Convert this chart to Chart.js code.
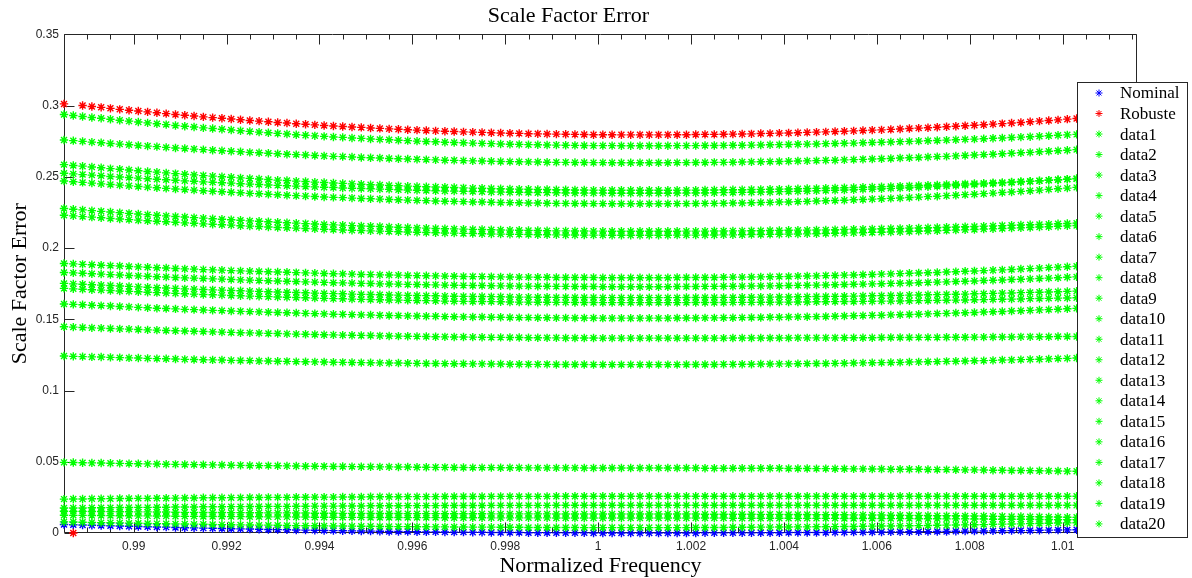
<!DOCTYPE html>
<html>
<head>
<meta charset="utf-8">
<title>Scale Factor Error</title>
<script src="https://cdn.jsdelivr.net/npm/chart.js@4.4.0/dist/chart.umd.min.js"></script>
<style>
	html, body { margin: 0; padding: 0; background: #fff; }
	#wrap { width: 1192px; height: 578px; }
</style>
</head>
<body>
<div id="wrap"><canvas id="chart" width="1192" height="578"></canvas></div>
<script>
'use strict';

//normalized frequency, shared by every series
const freq = [
	0.9885, 0.9887, 0.9889, 0.9891, 0.9893, 0.9895, 0.9897, 0.9899,
	0.9901, 0.9903, 0.9905, 0.9907, 0.9909, 0.9911, 0.9913, 0.9915, 0.9917, 0.9919,
	0.9921, 0.9923, 0.9925, 0.9927, 0.9929, 0.9931, 0.9933, 0.9935, 0.9937, 0.9939,
	0.9941, 0.9943, 0.9945, 0.9947, 0.9949, 0.9951, 0.9953, 0.9955, 0.9957, 0.9959,
	0.9961, 0.9963, 0.9965, 0.9967, 0.9969, 0.9971, 0.9973, 0.9975, 0.9977, 0.9979,
	0.9981, 0.9983, 0.9985, 0.9987, 0.9989, 0.9991, 0.9993, 0.9995, 0.9997, 0.9999,
	1.0001, 1.0003, 1.0005, 1.0007, 1.0009, 1.0011, 1.0013, 1.0015, 1.0017, 1.0019,
	1.0021, 1.0023, 1.0025, 1.0027, 1.0029, 1.0031, 1.0033, 1.0035, 1.0037, 1.0039,
	1.0041, 1.0043, 1.0045, 1.0047, 1.0049, 1.0051, 1.0053, 1.0055, 1.0057, 1.0059,
	1.0061, 1.0063, 1.0065, 1.0067, 1.0069, 1.0071, 1.0073, 1.0075, 1.0077, 1.0079,
	1.0081, 1.0083, 1.0085, 1.0087, 1.0089, 1.0091, 1.0093, 1.0095, 1.0097, 1.0099,
	1.0101, 1.0103, 1.0105, 1.0107, 1.0109, 1.0111, 1.0113
];

//scale factor error of each series, in units of 1e-4
const UNIT = 1e-4;

const nominal = [
	60,58,56,54,53,51,49,47,46,44,42,41,39,37,36,34,33,32,30,29,28,26,25,24,23,21,20,19,18,17,16,15,14,13,12,11,11,10,9,8,8,7,6,6,5,5,4,4,3,3,2,2,2,1,1,1,1,0,0,0,0,0,0,
	0,0,0,0,0,0,1,1,1,1,1,1,2,2,2,3,3,3,4,4,5,5,6,6,7,7,8,8,9,9,10,11,11,12,13,13,14,15,16,17,17,18,19,20,21,22,23,24,25,26,27,28
];
const robuste = [
	3012,0,3001,2994,2988,2981,2974,2968,2962,2956,2950,2944,2938,2932,2927,2921,2916,2911,2906,2901,2896,2891,2887,2882,2878,2873,2869,2865,2861,2857,2854,2850,2847,2843,2840,2837,2834,2831,2828,2825,2823,2820,2818,2816,2814,2812,2810,2808,2806,2805,2803,2802,2801,2800,2799,2798,2797,2796,2796,2796,2795,2795,2795,
	2795,2795,2795,2796,2796,2797,2798,2798,2799,2800,2801,2802,2804,2805,2807,2808,2810,2812,2814,2816,2818,2820,2823,2825,2828,2830,2833,2836,2839,2842,2845,2848,2852,2855,2859,2862,2866,2870,2874,2878,2882,2887,2891,2896,2900,2905,2910,2915,2920,2925,2930,2936
];
const data1 = [
	2938,2931,2924,2917,2911,2904,2897,2891,2885,2879,2873,2867,2861,2855,2850,2844,2839,2834,2829,2824,2819,2814,2810,2805,2801,2796,2792,2788,2784,2780,2777,2773,2770,2766,2763,2760,2757,2754,2751,2748,2746,2743,2741,2739,2737,2735,2733,2731,2729,2728,2726,2725,2724,2723,2722,2721,2720,2719,2719,2719,2718,2718,2718,
	2718,2718,2718,2719,2719,2719,2720,2720,2721,2722,2722,2723,2724,2725,2726,2727,2729,2730,2731,2733,2734,2736,2737,2739,2741,2743,2745,2747,2749,2751,2753,2755,2758,2760,2763,2765,2768,2771,2773,2776,2779,2782,2785,2789,2792,2795,2798,2802,2805,2809,2813,2816
];
const data2 = [
	2759,2754,2749,2744,2739,2734,2730,2725,2720,2716,2712,2707,2703,2699,2695,2691,2687,2683,2680,2676,2672,2669,2666,2662,2659,2656,2653,2650,2647,2644,2642,2639,2636,2634,2632,2629,2627,2625,2623,2621,2619,2617,2616,2614,2612,2611,2610,2608,2607,2606,2605,2604,2603,2602,2602,2601,2601,2600,2600,2599,2599,2599,2599,
	2599,2599,2599,2600,2600,2601,2601,2602,2602,2603,2604,2605,2606,2607,2608,2610,2611,2612,2614,2616,2617,2619,2621,2623,2625,2627,2629,2632,2634,2636,2639,2642,2644,2647,2650,2653,2656,2659,2662,2666,2669,2672,2676,2680,2683,2687,2691,2695,2699,2703,2707,2712
];
const data3 = [
	2586,2580,2575,2569,2564,2558,2553,2548,2543,2538,2533,2528,2523,2518,2514,2509,2505,2501,2497,2493,2489,2485,2481,2477,2474,2470,2467,2463,2460,2457,2454,2451,2448,2445,2443,2440,2438,2435,2433,2431,2429,2427,2425,2423,2421,2420,2418,2417,2415,2414,2413,2412,2411,2410,2409,2408,2408,2407,2407,2406,2406,2406,2406,
	2406,2406,2406,2407,2407,2407,2408,2408,2409,2410,2410,2411,2412,2413,2414,2415,2417,2418,2419,2421,2422,2424,2425,2427,2429,2431,2433,2435,2437,2439,2441,2443,2446,2448,2451,2453,2456,2459,2461,2464,2467,2470,2473,2477,2480,2483,2486,2490,2493,2497,2501,2504
];
const data4 = [
	2525,2521,2516,2512,2508,2503,2499,2495,2491,2487,2483,2480,2476,2472,2469,2465,2462,2459,2456,2452,2449,2446,2443,2440,2438,2435,2432,2430,2427,2425,2422,2420,2418,2416,2414,2412,2410,2408,2406,2404,2403,2401,2400,2398,2397,2396,2394,2393,2392,2391,2390,2389,2389,2388,2387,2387,2386,2386,2386,2385,2385,2385,2385,
	2385,2385,2385,2386,2386,2387,2387,2388,2389,2390,2391,2392,2393,2394,2396,2397,2399,2400,2402,2404,2406,2408,2410,2412,2414,2417,2419,2422,2424,2427,2430,2433,2436,2439,2442,2446,2449,2453,2456,2460,2464,2468,2472,2476,2480,2484,2488,2493,2497,2502,2507,2512
];
const data5 = [
	2471,2466,2461,2456,2451,2446,2442,2437,2432,2428,2424,2419,2415,2411,2407,2403,2399,2395,2392,2388,2384,2381,2378,2374,2371,2368,2365,2362,2359,2356,2354,2351,2348,2346,2344,2341,2339,2337,2335,2333,2331,2329,2328,2326,2324,2323,2322,2320,2319,2318,2317,2316,2315,2314,2314,2313,2313,2312,2312,2311,2311,2311,2311,
	2311,2311,2311,2312,2312,2313,2314,2314,2315,2316,2317,2318,2320,2321,2323,2324,2326,2328,2330,2332,2334,2336,2339,2341,2344,2346,2349,2352,2355,2358,2361,2364,2368,2371,2375,2378,2382,2386,2390,2394,2398,2403,2407,2412,2416,2421,2426,2431,2436,2441,2446,2452
];
const data6 = [
	2278,2273,2268,2263,2258,2253,2249,2244,2239,2235,2231,2226,2222,2218,2214,2210,2206,2202,2199,2195,2191,2188,2185,2181,2178,2175,2172,2169,2166,2163,2161,2158,2155,2153,2151,2148,2146,2144,2142,2140,2138,2136,2135,2133,2131,2130,2129,2127,2126,2125,2124,2123,2122,2121,2121,2120,2120,2119,2119,2118,2118,2118,2118,
	2118,2118,2118,2118,2119,2119,2119,2120,2120,2121,2121,2122,2122,2123,2124,2125,2126,2126,2127,2128,2129,2131,2132,2133,2134,2136,2137,2138,2140,2141,2143,2145,2146,2148,2150,2152,2154,2156,2158,2160,2162,2164,2166,2168,2171,2173,2175,2178,2180,2183,2186,2188
];
const data7 = [
	2230,2226,2221,2217,2213,2208,2204,2200,2196,2192,2188,2185,2181,2177,2174,2170,2167,2164,2161,2157,2154,2151,2148,2145,2143,2140,2137,2135,2132,2130,2127,2125,2123,2121,2119,2117,2115,2113,2111,2109,2108,2106,2105,2103,2102,2101,2099,2098,2097,2096,2095,2094,2094,2093,2092,2092,2091,2091,2091,2090,2090,2090,2090,
	2090,2090,2090,2091,2091,2091,2092,2092,2093,2093,2094,2095,2095,2096,2097,2098,2099,2100,2101,2102,2104,2105,2107,2108,2110,2111,2113,2114,2116,2118,2120,2122,2124,2126,2128,2130,2133,2135,2137,2140,2142,2145,2148,2150,2153,2156,2159,2162,2165,2168,2171,2174
];
const data8 = [
	1892,1889,1886,1883,1880,1877,1874,1871,1868,1865,1862,1860,1857,1854,1852,1849,1847,1845,1842,1840,1838,1836,1834,1832,1830,1828,1826,1824,1822,1820,1819,1817,1815,1814,1812,1811,1810,1808,1807,1806,1805,1803,1802,1801,1800,1800,1799,1798,1797,1796,1796,1795,1795,1794,1794,1793,1793,1793,1792,1792,1792,1792,1792,
	1792,1792,1792,1793,1793,1793,1794,1794,1795,1796,1796,1797,1798,1799,1800,1801,1803,1804,1805,1807,1808,1810,1811,1813,1815,1817,1819,1821,1823,1825,1827,1829,1832,1834,1837,1839,1842,1845,1847,1850,1853,1856,1859,1863,1866,1869,1872,1876,1879,1883,1887,1890
];
const data9 = [
	1829,1826,1823,1820,1817,1814,1811,1808,1805,1802,1799,1797,1794,1791,1789,1786,1784,1782,1779,1777,1775,1773,1771,1769,1767,1765,1763,1761,1759,1757,1756,1754,1752,1751,1749,1748,1747,1745,1744,1743,1742,1740,1739,1738,1737,1737,1736,1735,1734,1733,1733,1732,1732,1731,1731,1730,1730,1730,1729,1729,1729,1729,1729,
	1729,1729,1729,1730,1730,1730,1731,1731,1732,1732,1733,1734,1734,1735,1736,1737,1738,1739,1740,1741,1743,1744,1746,1747,1749,1750,1752,1753,1755,1757,1759,1761,1763,1765,1767,1769,1772,1774,1776,1779,1781,1784,1787,1789,1792,1795,1798,1801,1804,1807,1810,1813
];
const data10 = [
	1752,1749,1746,1743,1740,1737,1734,1731,1728,1725,1722,1720,1717,1714,1712,1709,1707,1705,1702,1700,1698,1696,1694,1692,1690,1688,1686,1684,1682,1680,1679,1677,1675,1674,1672,1671,1670,1668,1667,1666,1665,1663,1662,1661,1660,1660,1659,1658,1657,1656,1656,1655,1655,1654,1654,1653,1653,1653,1652,1652,1652,1652,1652,
	1652,1652,1652,1652,1653,1653,1653,1653,1654,1654,1655,1655,1656,1656,1657,1657,1658,1659,1660,1660,1661,1662,1663,1664,1665,1666,1667,1668,1670,1671,1672,1673,1675,1676,1677,1679,1680,1682,1684,1685,1687,1689,1690,1692,1694,1696,1698,1700,1702,1704,1706,1708
];
const data11 = [
	1717,1714,1711,1708,1705,1702,1699,1696,1693,1690,1687,1685,1682,1679,1677,1674,1672,1670,1667,1665,1663,1661,1659,1657,1655,1653,1651,1649,1647,1645,1644,1642,1640,1639,1637,1636,1635,1633,1632,1631,1630,1628,1627,1626,1625,1625,1624,1623,1622,1621,1621,1620,1620,1619,1619,1618,1618,1618,1617,1617,1617,1617,1617,
	1617,1617,1617,1617,1617,1618,1618,1618,1618,1619,1619,1619,1620,1620,1621,1621,1622,1622,1623,1623,1624,1625,1625,1626,1627,1628,1628,1629,1630,1631,1632,1633,1634,1635,1636,1637,1638,1640,1641,1642,1643,1645,1646,1647,1649,1650,1651,1653,1654,1656,1658,1659
];
const data12 = [
	1608,1605,1602,1599,1596,1593,1590,1587,1584,1581,1578,1576,1573,1570,1568,1565,1563,1561,1558,1556,1554,1552,1550,1548,1546,1544,1542,1540,1538,1536,1535,1533,1531,1530,1528,1527,1526,1524,1523,1522,1521,1519,1518,1517,1516,1516,1515,1514,1513,1512,1512,1511,1511,1510,1510,1509,1509,1509,1508,1508,1508,1508,1508,
	1508,1508,1508,1509,1509,1509,1510,1510,1511,1511,1512,1513,1513,1514,1515,1516,1517,1518,1519,1520,1522,1523,1525,1526,1528,1529,1531,1532,1534,1536,1538,1540,1542,1544,1546,1548,1551,1553,1555,1558,1560,1563,1566,1568,1571,1574,1577,1580,1583,1586,1589,1592
];
const data13 = [
	1448,1445,1443,1440,1438,1436,1433,1431,1429,1426,1424,1422,1420,1418,1416,1414,1412,1410,1408,1406,1405,1403,1401,1400,1398,1396,1395,1393,1392,1391,1389,1388,1387,1386,1384,1383,1382,1381,1380,1379,1378,1377,1376,1376,1375,1374,1373,1373,1372,1372,1371,1371,1370,1370,1369,1369,1369,1369,1368,1368,1368,1368,1368,
	1368,1368,1368,1368,1368,1368,1368,1368,1368,1369,1369,1369,1369,1369,1369,1369,1370,1370,1370,1370,1370,1371,1371,1371,1371,1372,1372,1372,1372,1373,1373,1373,1374,1374,1374,1375,1375,1376,1376,1376,1377,1377,1378,1378,1379,1379,1379,1380,1380,1381,1382,1382
];
const data14 = [
	1242,1240,1238,1236,1235,1233,1231,1229,1228,1226,1224,1223,1221,1219,1218,1216,1215,1214,1212,1211,1210,1208,1207,1206,1205,1203,1202,1201,1200,1199,1198,1197,1196,1195,1194,1193,1193,1192,1191,1190,1190,1189,1188,1188,1187,1187,1186,1186,1185,1185,1184,1184,1184,1183,1183,1183,1183,1182,1182,1182,1182,1182,1182,
	1182,1182,1182,1182,1183,1183,1183,1183,1184,1184,1185,1185,1186,1186,1187,1187,1188,1189,1190,1190,1191,1192,1193,1194,1195,1196,1197,1198,1200,1201,1202,1203,1205,1206,1207,1209,1210,1212,1214,1215,1217,1219,1220,1222,1224,1226,1228,1230,1232,1234,1236,1238
];
const data15 = [
	496,495,493,492,491,490,489,487,486,485,484,483,482,481,480,479,478,477,476,475,474,473,473,472,471,470,469,469,468,467,467,466,465,465,464,464,463,463,462,462,461,461,460,460,459,459,459,458,458,458,457,457,457,457,457,457,456,456,456,456,456,456,456,
	456,456,456,456,456,456,455,455,455,455,455,455,454,454,454,453,453,453,452,452,451,451,450,450,449,449,448,448,447,447,446,445,445,444,443,443,442,441,440,439,439,438,437,436,435,434,433,432,431,430,429,428
];
const data16 = [
	238,239,239,240,240,241,242,242,243,243,244,244,245,246,246,247,247,247,248,248,249,249,250,250,250,251,251,252,252,252,253,253,253,254,254,254,254,255,255,255,255,256,256,256,256,256,257,257,257,257,257,257,257,258,258,258,258,258,258,258,258,258,258,
	258,258,258,258,258,258,258,258,258,258,258,258,258,258,258,258,258,258,258,258,258,258,258,258,258,258,258,258,258,258,258,258,258,258,258,258,258,258,258,258,258,258,258,258,258,258,258,258,258,258,258,258
];
const data17 = [
	175,176,176,177,177,178,179,179,180,180,181,181,182,183,183,184,184,184,185,185,186,186,187,187,187,188,188,189,189,189,190,190,190,191,191,191,191,192,192,192,192,193,193,193,193,193,194,194,194,194,194,194,194,195,195,195,195,195,195,195,195,195,195,
	195,195,195,195,195,195,195,195,195,195,195,195,195,195,195,195,195,195,195,195,195,195,195,195,195,195,195,195,195,195,195,195,195,195,195,195,195,195,195,195,195,195,195,195,195,195,195,195,195,195,195,195
];
const data18 = [
	153,152,152,151,151,150,149,149,148,148,147,147,146,145,145,144,144,144,143,143,142,142,141,141,141,140,140,139,139,139,138,138,138,137,137,137,137,136,136,136,136,135,135,135,135,135,134,134,134,134,134,134,134,133,133,133,133,133,133,133,133,133,133,
	133,133,133,133,133,133,132,132,132,132,132,132,131,131,131,130,130,130,129,129,128,128,127,127,126,126,125,125,124,124,123,122,122,121,120,120,119,118,117,116,116,115,114,113,112,111,110,109,108,107,106,105
];
const data19 = [
	125,124,124,123,123,122,121,121,120,120,119,119,118,117,117,116,116,116,115,115,114,114,113,113,113,112,112,111,111,111,110,110,110,109,109,109,109,108,108,108,108,107,107,107,107,107,106,106,106,106,106,106,106,105,105,105,105,105,105,105,105,105,105,
	105,105,105,105,105,105,105,105,105,104,104,104,104,104,104,104,103,103,103,103,103,102,102,102,102,101,101,101,101,100,100,100,99,99,99,98,98,97,97,97,96,96,95,95,94,94,94,93,93,92,91,91
];
const data20 = [
	78,77,75,74,73,72,71,69,68,67,66,65,64,63,62,61,60,59,58,57,56,55,55,54,53,52,51,51,50,49,49,48,47,47,46,46,45,45,44,44,43,43,42,42,41,41,41,40,40,40,39,39,39,39,39,39,38,38,38,38,38,38,38,
	38,38,38,38,38,39,39,39,39,40,40,40,41,41,42,42,43,43,44,44,45,46,46,47,48,49,49,50,51,52,53,54,55,56,57,58,59,61,62,63,64,66,67,68,70,71,72,74,75,77,79,80
];

const seriesNames = [
	'Nominal', 'Robuste', 'data1', 'data2', 'data3', 'data4', 'data5', 'data6', 'data7', 'data8', 'data9',
	'data10', 'data11', 'data12', 'data13', 'data14', 'data15', 'data16', 'data17', 'data18', 'data19', 'data20'
];
const seriesValues = [
	nominal, robuste, data1, data2, data3, data4, data5, data6, data7, data8, data9,
	data10, data11, data12, data13, data14, data15, data16, data17, data18, data19, data20
];

const xTickValues = [0.99, 0.992, 0.994, 0.996, 0.998, 1, 1.002, 1.004, 1.006, 1.008, 1.01];
const xTickLabels = ['0.99', '0.992', '0.994', '0.996', '0.998', '1', '1.002', '1.004', '1.006', '1.008', '1.01'];
const yTickValues = [0, 0.05, 0.1, 0.15, 0.2, 0.25, 0.3, 0.35];
const yTickLabels = ['0', '0.05', '0.1', '0.15', '0.2', '0.25', '0.3', '0.35'];

const AXIS_COLOUR = '#262626';
const SERIF = '"Liberation Serif", "DejaVu Serif", serif';
const SANS = '"Liberation Sans", Arial, sans-serif';

/** Colour of a series: blue nominal, red robust, green for the rest. */
function seriesColour(idx) {
	if (idx === 0) {
		return '#0000ff';
	}
	return (idx === 1) ? '#ff0000' : '#00ff00';
}

const datasets = seriesValues.map((vals, idx) => ({
	label: seriesNames[idx],
	data: vals.map((v, i) => ({x: freq[i], y: v * UNIT})),
	order: seriesValues.length - idx,					//later series drawn on top, like MATLAB
	pointStyle: 'star',
	pointRadius: 4.2,
	pointBorderWidth: 1.4,
	borderColor: seriesColour(idx),
	backgroundColor: seriesColour(idx),
	clip: false
}));

//MATLAB style box with inward ticks, drawn under the markers
const axesBox = {
	id: 'axesBox',
	beforeDatasetsDraw: (chart) => {
		const {ctx, chartArea: area, scales: {x, y}} = chart;
		const left = Math.round(area.left) + 0.5, right = Math.round(area.right) - 0.5;
		const top = Math.round(area.top) + 0.5, bottom = Math.round(area.bottom) - 0.5;
		const MAJOR = 10, MINOR = 5;
		
		ctx.save();
		ctx.strokeStyle = AXIS_COLOUR;
		ctx.lineWidth = 1;
		ctx.beginPath();
		ctx.rect(left, top, right - left, bottom - top);
		
		for (let k = Math.ceil(x.min * 2000 - 1e-6); k <= Math.floor(x.max * 2000 + 1e-6); ++k) {
			const px = Math.round(x.getPixelForValue(k / 2000)) + 0.5;
			const len = (k % 4 === 0) ? MAJOR : MINOR;		//major every 0.002
			ctx.moveTo(px, bottom);
			ctx.lineTo(px, bottom - len);
			ctx.moveTo(px, top);
			ctx.lineTo(px, top + len);
		}
		for (const v of yTickValues) {
			const py = Math.round(y.getPixelForValue(v)) + 0.5;
			ctx.moveTo(left, py);
			ctx.lineTo(left + MAJOR, py);
			ctx.moveTo(right, py);
			ctx.lineTo(right - MAJOR, py);
		}
		ctx.stroke();
		ctx.restore();
	}
};

//legend box overlapping the right edge of the plot
const legendBox = {
	id: 'legendBox',
	afterDraw: (chart) => {
		const {ctx} = chart;
		const box = {left: 1077.5, top: 82.5, right: 1187.5, bottom: 537.5};
		const ROW = 20.52, FIRST = 93;
		
		ctx.save();
		ctx.fillStyle = '#ffffff';
		ctx.fillRect(box.left, box.top, box.right - box.left, box.bottom - box.top);
		ctx.strokeStyle = AXIS_COLOUR;
		ctx.lineWidth = 1;
		ctx.strokeRect(box.left, box.top, box.right - box.left, box.bottom - box.top);
		
		ctx.font = '17px ' + SERIF;
		ctx.textBaseline = 'middle';
		ctx.textAlign = 'left';
		seriesNames.forEach((name, idx) => {
			const cy = FIRST + idx * ROW;
			ctx.strokeStyle = seriesColour(idx);
			ctx.fillStyle = seriesColour(idx);
			Chart.helpers.drawPoint(ctx, {pointStyle: 'star', radius: 3.5, borderWidth: 1.2}, 1099, cy);
			ctx.fillStyle = '#000000';
			ctx.fillText(name, 1120, cy + 1);
		});
		ctx.restore();
	}
};

new Chart(document.getElementById('chart'), {
	type: 'scatter',
	data: {
		datasets: datasets
	},
	options: {
		responsive: false,
		animation: false,
		events: [],
		layout: {
			padding: {top: 0, right: 55, bottom: 0, left: 0}
		},
		plugins: {
			legend: {display: false},
			tooltip: {enabled: false},
			title: {
				display: true,
				text: 'Scale Factor Error',
				color: '#000000',
				font: {family: SERIF, size: 22, weight: 'normal', lineHeight: 1.2},
				padding: {top: 3, bottom: 5}
			}
		},
		scales: {
			x: {
				type: 'linear',
				min: 0.9885,
				max: 1.0116,
				grid: {display: false, drawTicks: false},
				border: {display: false},
				afterBuildTicks: (scale) => {
					scale.ticks = xTickValues.map(v => ({value: v}));
				},
				afterFit: (scale) => {
					scale.height = 45;
				},
				ticks: {
					autoSkip: false,
					maxRotation: 0,
					padding: 6,
					color: AXIS_COLOUR,
					font: {family: SANS, size: 12},
					callback: (value, idx) => xTickLabels[idx]
				},
				title: {
					display: true,
					text: 'Normalized Frequency',
					color: '#000000',
					font: {family: SERIF, size: 22, weight: 'normal', lineHeight: 1},
					padding: {top: 0, bottom: 1}
				}
			},
			y: {
				type: 'linear',
				min: 0,
				max: 0.35,
				grid: {display: false, drawTicks: false},
				border: {display: false},
				afterBuildTicks: (scale) => {
					scale.ticks = yTickValues.map(v => ({value: v}));
				},
				afterFit: (scale) => {
					scale.width = 64;
				},
				ticks: {
					autoSkip: false,
					padding: 5,
					color: AXIS_COLOUR,
					font: {family: SANS, size: 12},
					callback: (value, idx) => yTickLabels[idx]
				},
				title: {
					display: true,
					text: 'Scale Factor Error',
					color: '#000000',
					font: {family: SERIF, size: 22, weight: 'normal', lineHeight: 1},
					padding: {top: 9, bottom: 0}
				}
			}
		}
	},
	plugins: [axesBox, legendBox]
});
</script>
</body>
</html>
